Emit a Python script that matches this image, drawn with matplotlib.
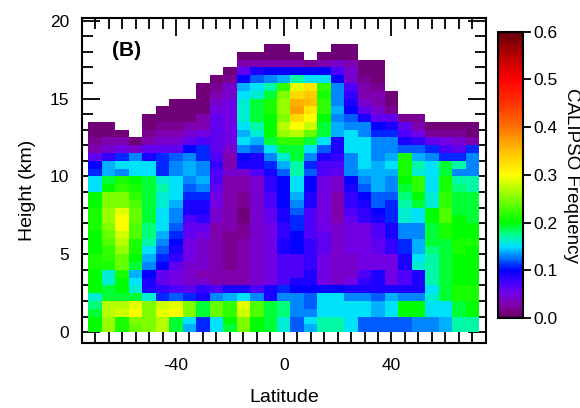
import numpy as np
import matplotlib
matplotlib.use("Agg")
import matplotlib.pyplot as plt
import matplotlib.colors as mcolors

plt.rcParams['font.family'] = ['Liberation Sans', 'DejaVu Sans']
plt.rcParams['axes.unicode_minus'] = False

N = None  # no retrieval in this bin

# bin centres: latitude (deg) and height (km)
lat = [-70, -65, -60, -55, -50, -45, -40, -35, -30, -25, -20, -15, -10, -5, 0,
       5, 10, 15, 20, 25, 30, 35, 40, 45, 50, 55, 60, 65, 70]
height = [0.25, 0.75, 1.25, 1.75, 2.25, 2.75, 3.25, 3.75, 4.25, 4.75, 5.25, 5.75,
          6.25, 6.75, 7.25, 7.75, 8.25, 8.75, 9.25, 9.75, 10.25, 10.75, 11.25,
          11.75, 12.25, 12.75, 13.25, 13.75, 14.25, 14.75, 15.25, 15.75, 16.25,
          16.75, 17.25, 17.75, 18.25]

# CALIPSO frequency in percent, one row per height bin (ground first)
freq_pct = [
    [20, 26, 21, 24, 25, 27, 19, 14, 11, 15, 19, 25, 20, 19, 16, 12, 14, 17, 17, 15, 12, 12, 12, 12, 13, 13, 14, 17, 17],
    [20, 26, 21, 25, 25, 27, 19, 15, 11, 15, 20, 25, 20, 19, 16, 12, 15, 17, 17, 15, 12, 12, 12, 12, 13, 13, 14, 17, 17],
    [19, 27, 28, 30, 25, 29, 30, 25, 19, 24, 22, 28, 23, 19, 18, 13, 13, 15, 15, 15, 15, 14, 15, 20, 20, 15, 15, 19, 20],
    [18, 27, 27, 29, 25, 28, 29, 25, 19, 24, 22, 29, 23, 19, 18, 13, 12, 15, 15, 15, 15, 14, 15, 20, 20, 15, 15, 19, 20],
    [16, 19, 19, 19, 16, 11, 12, 11, 9, 13, 14, 15, 13, 9, 13, 13, 12, 15, 15, 13, 13, 12, 14, 13, 13, 16, 19, 21, 21],
    [20, 19, 20, 16, 9, 8, 7, 6, 8, 7, 9, 9, 7, 9, 11, 10, 10, 10, 10, 9, 9, 9, 9, 9, 9, 15, 19, 21, 21],
    [20, 16, 20, 15, 9, 6, 5, 4, 4, 3, 3, 3, 4, 5, 7, 9, 9, 5, 4, 5, 8, 9, 5, 7, 9, 17, 19, 20, 20],
    [20, 16, 21, 14, 10, 6, 5, 4, 3, 3, 3, 3, 4, 5, 7, 7, 9, 5, 4, 4, 7, 9, 5, 7, 9, 17, 19, 20, 20],
    [21, 21, 24, 19, 13, 10, 6, 4, 4, 3, 2, 3, 4, 5, 7, 7, 8, 5, 4, 4, 5, 5, 5, 9, 16, 17, 19, 20, 20],
    [21, 22, 24, 20, 14, 11, 8, 5, 4, 3, 2, 3, 4, 5, 7, 7, 8, 5, 4, 4, 5, 5, 5, 9, 15, 17, 19, 20, 20],
    [20, 22, 26, 21, 15, 12, 9, 5, 4, 3, 2, 3, 4, 5, 9, 10, 8, 6, 4, 5, 5, 6, 8, 11, 14, 18, 19, 21, 20],
    [20, 23, 27, 21, 17, 13, 10, 5, 4, 3, 2, 3, 4, 5, 9, 10, 8, 6, 4, 5, 5, 6, 8, 11, 14, 19, 19, 21, 21],
    [20, 24, 28, 23, 18, 14, 11, 6, 5, 3, 2, 2, 4, 5, 8, 10, 7, 6, 4, 5, 5, 7, 9, 13, 13, 19, 21, 20, 20],
    [21, 25, 30, 23, 18, 15, 12, 6, 6, 3, 3, 2, 4, 5, 8, 11, 7, 5, 4, 5, 5, 7, 9, 13, 13, 19, 21, 20, 20],
    [21, 26, 30, 24, 19, 15, 13, 7, 8, 4, 3, 1, 4, 6, 9, 11, 7, 5, 3, 6, 8, 9, 11, 16, 15, 20, 23, 20, 19],
    [21, 26, 29, 24, 19, 15, 13, 9, 9, 4, 3, 1, 4, 6, 9, 12, 7, 5, 3, 7, 8, 10, 11, 16, 15, 20, 23, 19, 19],
    [20, 25, 25, 23, 19, 16, 14, 9, 9, 5, 3, 2, 4, 7, 10, 13, 9, 5, 3, 8, 9, 12, 11, 17, 19, 16, 22, 19, 19],
    [20, 25, 25, 22, 19, 16, 15, 11, 11, 5, 3, 2, 4, 7, 10, 14, 9, 5, 3, 8, 10, 12, 12, 18, 20, 16, 22, 19, 19],
    [15, 20, 22, 21, 19, 17, 15, 12, 13, 6, 3, 3, 4, 8, 10, 15, 10, 5, 4, 9, 12, 14, 13, 19, 22, 15, 21, 18, 17],
    [15, 19, 21, 20, 19, 16, 15, 13, 14, 7, 3, 3, 4, 8, 10, 15, 10, 5, 4, 10, 13, 14, 13, 20, 22, 15, 21, 17, 17],
    [11, 14, 13, 15, 15, 11, 13, 14, 13, 7, 4, 4, 7, 9, 12, 17, 12, 7, 6, 13, 14, 14, 14, 21, 16, 15, 19, 13, 13],
    [10, 14, 15, 15, 15, 11, 13, 14, 13, 8, 3, 9, 9, 11, 14, 17, 11, 7, 7, 13, 15, 14, 15, 21, 17, 15, 19, 17, 13],
    [6, 8, 11, 13, 9, 11, 12, 13, 11, 7, 3, 10, 9, 13, 16, 19, 13, 9, 8, 13, 15, 13, 14, 21, 14, 13, 11, 11, 13],
    [3, 4, 5, 4, 6, 6, 6, 10, 11, 6, 4, 13, 12, 15, 19, 19, 15, 12, 9, 15, 15, 13, 13, 12, 12, 11, 7, 6, 11],
    [2, 3, 3, 1, 3, 4, 4, 6, 7, 6, 5, 15, 14, 19, 22, 22, 19, 15, 9, 15, 15, 13, 13, 9, 8, 6, 5, 4, 3],
    [1, 1, 1, N, 2, 3, 3, 4, 5, 6, 5, 14, 16, 20, 26, 27, 24, 19, 14, 15, 13, 11, 11, 7, 5, 2, 2, 2, 1],
    [1, 1, N, N, 1, 2, 2, 3, 3, 6, 5, 15, 17, 20, 27, 30, 28, 19, 14, 13, 13, 10, 9, 6, 3, 1, 1, 1, 1],
    [N, N, N, N, 1, 1, 1, 1, 3, 6, 5, 16, 19, 20, 25, 33, 30, 20, 13, 12, 9, 6, 6, 2, 2, N, N, N, N],
    [N, N, N, N, N, 1, 1, 1, 1, 5, 5, 16, 19, 21, 26, 37, 32, 22, 14, 10, 6, 4, 2, N, N, N, N, N, N],
    [N, N, N, N, N, N, 1, 1, 1, 4, 5, 16, 19, 21, 26, 36, 35, 22, 13, 9, 4, 3, 1, N, N, N, N, N, N],
    [N, N, N, N, N, N, N, N, 1, 3, 4, 15, 16, 19, 25, 33, 34, 21, 13, 8, 3, 3, 1, N, N, N, N, N, N],
    [N, N, N, N, N, N, N, N, 1, 2, 4, 14, 15, 17, 22, 29, 32, 22, 13, 7, 3, 2, N, N, N, N, N, N, N],
    [N, N, N, N, N, N, N, N, N, 1, 2, 10, 12, 13, 14, 17, 15, 15, 10, 4, 2, 1, N, N, N, N, N, N, N],
    [N, N, N, N, N, N, N, N, N, N, 1, 6, 9, 10, 10, 10, 10, 10, 7, 4, 1, 1, N, N, N, N, N, N, N],
    [N, N, N, N, N, N, N, N, N, N, N, 3, 3, 3, 3, 3, 2, 3, 4, 3, 1, 1, N, N, N, N, N, N, N],
    [N, N, N, N, N, N, N, N, N, N, N, 1, 1, 1, 1, 1, N, 1, 1, 1, N, N, N, N, N, N, N, N, N],
    [N, N, N, N, N, N, N, N, N, N, N, N, N, 1, 1, N, N, N, 1, 1, N, N, N, N, N, N, N, N, N],
]

cbar_ticks = [0.0, 0.1, 0.2, 0.3, 0.4, 0.5, 0.6]

freq = np.ma.masked_invalid(np.array(freq_pct, dtype=float) / 100.0)

# rainbow scale: dark purple -> blue -> cyan -> green -> yellow -> red -> maroon
anchors = [
    (0.000, (0.40, 0.00, 0.36)),
    (0.025, (0.50, 0.00, 0.65)),
    (0.050, (0.45, 0.00, 0.90)),
    (0.075, (0.25, 0.00, 1.00)),
    (0.100, (0.00, 0.00, 1.00)),
    (0.125, (0.00, 0.45, 1.00)),
    (0.150, (0.00, 0.88, 1.00)),
    (0.175, (0.00, 1.00, 0.55)),
    (0.200, (0.00, 1.00, 0.00)),
    (0.250, (0.50, 1.00, 0.00)),
    (0.300, (1.00, 1.00, 0.00)),
    (0.350, (1.00, 0.75, 0.00)),
    (0.400, (1.00, 0.45, 0.00)),
    (0.450, (1.00, 0.20, 0.00)),
    (0.500, (1.00, 0.00, 0.00)),
    (0.550, (0.72, 0.00, 0.00)),
    (0.600, (0.38, 0.00, 0.05)),
]
cmap = mcolors.LinearSegmentedColormap.from_list(
    'calipso', [(v / 0.6, c) for v, c in anchors])

fig = plt.figure(figsize=(5.8, 4.08), dpi=100)
ax = fig.add_axes([0.1409, 0.1593, 0.6966, 0.7958])

mesh = ax.pcolormesh(lat, height, freq, cmap=cmap, vmin=0, vmax=0.6,
                     shading='nearest')

ax.set_xlim(-75, 75)
ax.set_ylim(-0.7, 20.15)
ax.set_xticks([-40, 0, 40])
ax.set_xticks(np.arange(-70, 71, 5), minor=True)
ax.set_yticks([0, 5, 10, 15, 20])
ax.set_yticks(np.arange(0, 21, 1), minor=True)
ax.set_axisbelow(True)
ax.tick_params(which='both', direction='in', top=True, right=True,
               width=1.3, labelsize=12.5)
ax.tick_params(which='major', length=13)
ax.tick_params(which='minor', length=8)
ax.tick_params(axis='x', pad=11)
ax.tick_params(axis='y', pad=9)
for sp in ax.spines.values():
    sp.set_linewidth(1.5)

ax.text(0.112, 0.902, '(B)', transform=ax.transAxes, fontsize=15,
        fontweight='bold', ha='center', va='center')

fig.text(284 / 580, 1 - 398 / 408, 'Latitude', ha='center', va='center',
         fontsize=14)
fig.text(27 / 580, 1 - 190 / 408, 'Height (km)', ha='center', va='center',
         rotation=90, fontsize=14)

# colour bar
cax = fig.add_axes([0.8586, 0.2206, 0.0426, 0.7017])
cb = fig.colorbar(mesh, cax=cax, ticks=cbar_ticks)
cb.ax.set_yticklabels([f'{t:.1f}' for t in cbar_ticks])
cb.ax.tick_params(direction='out', length=6, width=1.3, labelsize=12.5, pad=2)
cb.outline.set_linewidth(1.5)
fig.text(0.985, 0.57, 'CALIPSO Frequency', rotation=270, ha='center',
         va='center', fontsize=13.5)

fig.savefig('out.png', dpi=100)
